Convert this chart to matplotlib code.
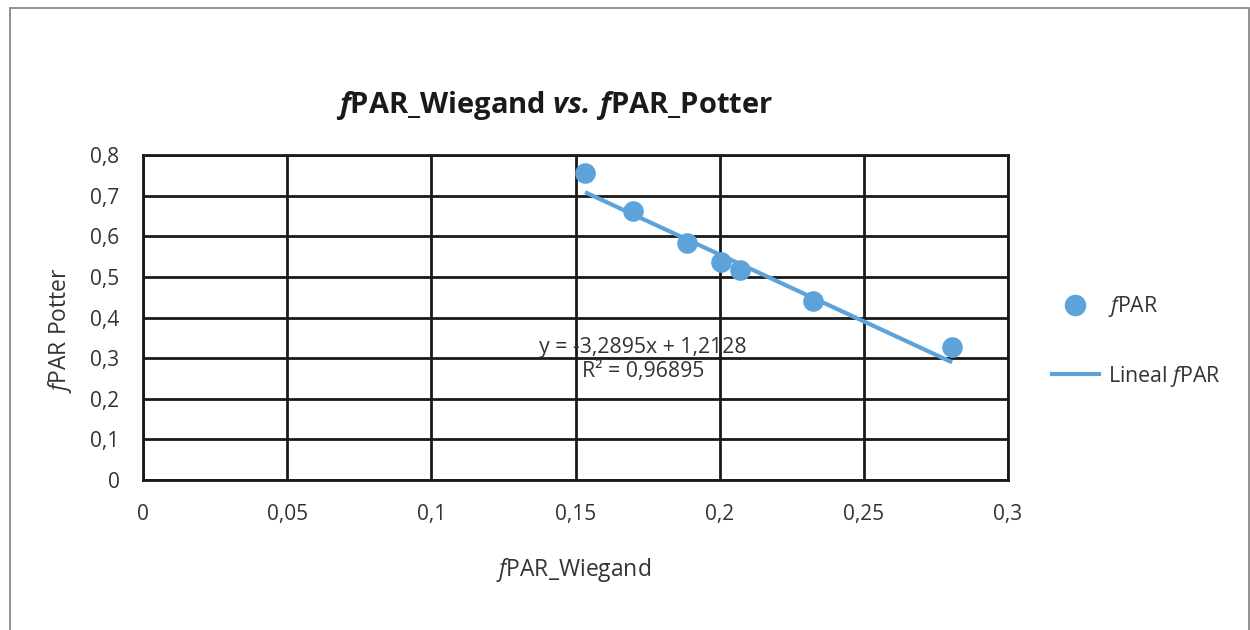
import numpy as np
import matplotlib.pyplot as plt
from matplotlib.ticker import FuncFormatter, MultipleLocator
from matplotlib.patches import Rectangle
from matplotlib.lines import Line2D

## Data
fpar_wiegand = [0.1533, 0.1699, 0.1887, 0.2005, 0.2071, 0.2324, 0.2806]
fpar_potter = [0.756, 0.662, 0.583, 0.537, 0.517, 0.441, 0.327]
slope = -3.2895
intercept = 1.2128
r2 = 0.96895

blue = '#5DA3D9'
txt = '#333333'

plt.rcParams['font.family'] = ['Open Sans', 'DejaVu Sans']
plt.rcParams['mathtext.fontset'] = 'custom'
plt.rcParams['mathtext.rm'] = 'Open Sans'
plt.rcParams['mathtext.it'] = 'Open Sans:italic'
plt.rcParams['mathtext.bf'] = 'Open Sans:bold'
plt.rcParams['mathtext.bfit'] = 'Open Sans:italic:bold'

fig = plt.figure(figsize=(12.5, 6.3), dpi=100)
ax = fig.add_axes([0.1144, 0.238, 0.692, 0.516])

## outer chart border
fig.patches.append(Rectangle((0.008, -0.02), 0.991, 1.007, transform=fig.transFigure,
                             fill=False, edgecolor='#7f7f7f', linewidth=1.2))

## scatter and trend line
ax.scatter(fpar_wiegand, fpar_potter, s=220, color=blue, zorder=3, linewidths=0)
xs = np.array([min(fpar_wiegand), max(fpar_wiegand)])
ax.plot(xs, slope * xs + intercept, color=blue, linewidth=3, zorder=2,
        solid_capstyle='butt')

ax.set_xlim(0, 0.3)
ax.set_ylim(0, 0.8)
ax.xaxis.set_major_locator(MultipleLocator(0.05))
ax.yaxis.set_major_locator(MultipleLocator(0.1))
comma = FuncFormatter(lambda v, p: ('%g' % round(v, 3)).replace('.', ','))
ax.xaxis.set_major_formatter(comma)
ax.yaxis.set_major_formatter(comma)
ax.tick_params(length=0, labelsize=15, labelcolor=txt)
ax.tick_params(axis='x', pad=17)
ax.tick_params(axis='y', pad=17)
ax.grid(True, color='#1a1a1a', linewidth=2)
ax.set_axisbelow(True)
for s in ax.spines.values():
    s.set_color('#1a1a1a')
    s.set_linewidth(2)

## equation label
eq = 'y = ' + ('%.4f' % slope).replace('.', ',') + 'x + ' + ('%.4f' % intercept).replace('.', ',')
eq += '\nR² = ' + str(r2).replace('.', ',')
ax.text(0.1735, 0.297, eq, fontsize=15.3, color=txt, ha='center', va='center',
        linespacing=1.2, zorder=4)

## titles
fig.text(0.444, 0.833, r'$\mathbfit{f}$PAR_Wiegand $\mathbfit{vs.}\,\mathbfit{f}$PAR_Potter',
         fontsize=21, fontweight='bold', color='#1a1a1a', ha='center', va='center')
fig.text(0.459, 0.095, r'$\mathit{f}$PAR_Wiegand', fontsize=16.5, color=txt,
         ha='center', va='center')
fig.text(0.048, 0.476, r'$\mathit{f}$PAR Potter', fontsize=16.5, color=txt,
         ha='center', va='center', rotation=90)

## legend
handles = [Line2D([], [], marker='o', linestyle='none', color=blue, markersize=14.5),
           Line2D([], [], color=blue, linewidth=3)]
fig.legend(handles, [r'$\mathit{f}$PAR', r'Lineal $\mathit{f}$PAR'],
           loc='center left', bbox_to_anchor=(0.826, 0.458), frameon=False,
           fontsize=15.4, labelcolor=txt, labelspacing=2.1, handlelength=2.2,
           handletextpad=0.45)

fig.savefig('out.png', dpi=100)
